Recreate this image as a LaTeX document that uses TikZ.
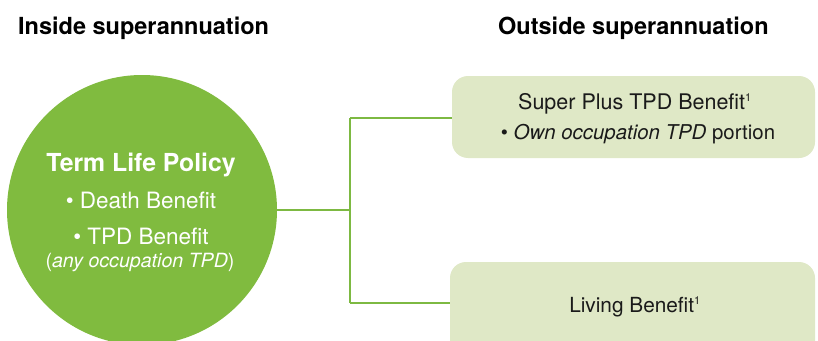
\documentclass[tikz,border=0pt]{standalone}
\usepackage{fontspec}
\setmainfont{TeX Gyre Heros}
\definecolor{circgreen}{HTML}{80BB3F}
\definecolor{linegreen}{HTML}{7DB942}
\definecolor{boxfill}{HTML}{DFE8C6}
\definecolor{boxtext}{HTML}{1A1A1A}
\tikzset{
  heading/.style={anchor=base west, inner sep=0pt, font=\fontsize{23.5}{23.5}\selectfont\bfseries, text=black},
  circtext/.style={anchor=base, inner sep=0pt, text=white},
  boxtxt/.style={anchor=base, inner sep=0pt, text=boxtext},
  conn/.style={draw=linegreen, line width=2.4pt},
  panel/.style={fill=boxfill, rounded corners=16pt}
}
\newcommand{\supone}{\textsuperscript{\fontsize{11}{11}\selectfont 1}}
\begin{document}
\begin{tikzpicture}[x=1pt,y=-1pt]
\useasboundingbox (0,0) rectangle (818,340);
\begin{scope}
\clip (0,0) rectangle (818,340);
\coordinate (j1) at (350,210);
\coordinate (jt) at (350,118);
\coordinate (jb) at (350,303);
\node[circle, fill=circgreen, minimum size=270pt, inner sep=0pt] (policy) at (142,210) {};
\fill[panel] (452,76) rectangle (815,158);
\fill[panel] (450,262) rectangle (815,360);
\coordinate (tbox) at (452,118);
\coordinate (bbox) at (450,303);
\draw[conn] (policy.east) -- (j1);
\draw[conn] (jt) -- (jb);
\draw[conn] (jt) -- (tbox);
\draw[conn] (jb) -- (bbox);
\end{scope}
% headings
\node[heading] (hin) at (18,34) {Inside superannuation};
\node[heading] (hout) at (498,34) {Outside superannuation};
% circle text
\node[circtext, font=\fontsize{24.8}{24.8}\selectfont\bfseries] (t1) at (141,171) {Term Life Policy};
\node[circtext, font=\fontsize{22.5}{22.5}\selectfont] (t2) at (141,208) {\textbullet\ Death Benefit};
\node[circtext, font=\fontsize{22.5}{22.5}\selectfont] (t3) at (141,244) {\textbullet\ TPD Benefit};
\node[circtext, font=\fontsize{19.6}{19.6}\selectfont] (t4) at (140,267) {(\textit{any occupation TPD})};
% box texts
\node[boxtxt, font=\fontsize{21.5}{21.5}\selectfont] (b1) at (635,109) {Super Plus TPD Benefit\supone};
\node[boxtxt, font=\fontsize{20.4}{20.4}\selectfont] (b2) at (638,139) {\textbullet\ \textit{Own occupation TPD} portion};
\node[boxtxt, font=\fontsize{20.8}{20.8}\selectfont] (b3) at (635,312) {Living Benefit\supone};
\end{tikzpicture}
\end{document}
